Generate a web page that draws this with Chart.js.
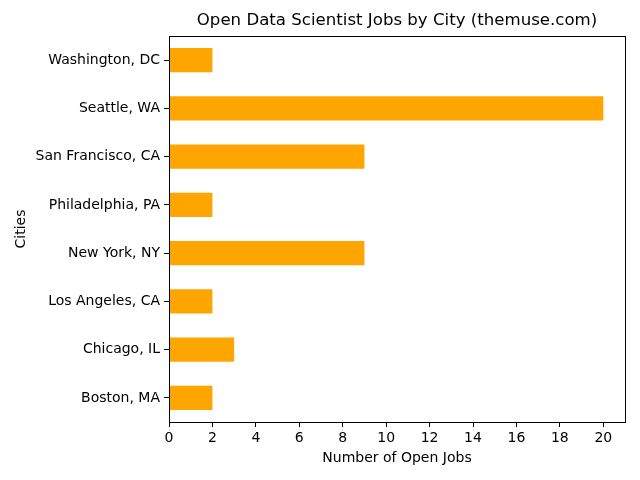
<!DOCTYPE html>
<html>
<head>
<meta charset="utf-8">
<script src="https://cdn.jsdelivr.net/npm/chart.js@4/dist/chart.umd.min.js"></script>
<style>
  html, body { margin: 0; padding: 0; background: #fff; }
  #wrap { width: 640px; height: 480px; }
</style>
</head>
<body>
<div id="wrap"><canvas id="jobsChart" width="640" height="480"></canvas></div>
<script>
// cities listed top to bottom as in the picture
const cities = ['Washington, DC', 'Seattle, WA', 'San Francisco, CA', 'Philadelphia, PA',
                'New York, NY', 'Los Angeles, CA', 'Chicago, IL', 'Boston, MA'];
const openJobs = [2, 20, 9, 2, 9, 2, 3, 2];
const xTicks = [0, 2, 4, 6, 8, 10, 12, 14, 16, 18, 20];
const titleText = 'Open Data Scientist Jobs by City (themuse.com)';

const font = 'DejaVu Sans';

// black box round the plot area, like matplotlib spines, plus the title centred over it
const frame = {
    id: 'frame',
    afterDraw(chart) {
        const a = chart.chartArea;
        const ctx = chart.ctx;
        ctx.save();
        ctx.strokeStyle = '#000';
        ctx.lineWidth = 1;
        ctx.strokeRect(Math.round(a.left) + 0.5, Math.round(a.top) + 0.5,
                       Math.round(a.right - a.left), Math.round(a.bottom - a.top));
        ctx.fillStyle = '#000';
        ctx.font = '16.6px "' + font + '"';
        ctx.textAlign = 'center';
        ctx.textBaseline = 'middle';
        ctx.fillText(titleText, (a.left + a.right) / 2, 21);
        ctx.restore();
    }
};

const ctx = document.getElementById('jobsChart').getContext('2d');
new Chart(ctx, {
    type: 'bar',
    data: {
        labels: cities,
        datasets: [{
            label: 'Open Jobs',
            data: openJobs,
            backgroundColor: '#FFA500',
            borderWidth: 0,
            barPercentage: 0.5,
            categoryPercentage: 1.0,
        }],
    },
    options: {
        indexAxis: 'y',
        responsive: false,
        animation: false,
        layout: { padding: { left: 0, right: 15, top: 36, bottom: 0 } },
        plugins: {
            legend: { display: false },
            tooltip: { enabled: false },
            title: { display: false },
        },
        scales: {
            x: {
                min: 0,
                max: 21,
                afterBuildTicks: (scale) => { scale.ticks = xTicks.map(v => ({ value: v })); },
                afterFit: (scale) => { scale.height = 58; },
                grid: { display: true, drawOnChartArea: false, drawTicks: true, tickLength: 5, color: '#000' },
                border: { display: false },
                ticks: { color: '#000', font: { family: font, size: 14 }, padding: 3, maxRotation: 0 },
                title: {
                    display: true,
                    text: 'Number of Open Jobs',
                    color: '#000',
                    font: { family: font, size: 14 },
                    padding: { top: 4, bottom: 13 },
                },
            },
            y: {
                afterFit: (scale) => { scale.width = 169; },
                grid: { display: true, offset: false, drawOnChartArea: false, drawTicks: true, tickLength: 5, color: '#000' },
                border: { display: false },
                ticks: { color: '#000', font: { family: font, size: 14 }, padding: 4 },
                title: {
                    display: true,
                    text: 'Cities',
                    color: '#000',
                    font: { family: font, size: 14 },
                    padding: { top: 13, bottom: 4 },
                },
            },
        },
    },
    plugins: [frame],
});
</script>
</body>
</html>
